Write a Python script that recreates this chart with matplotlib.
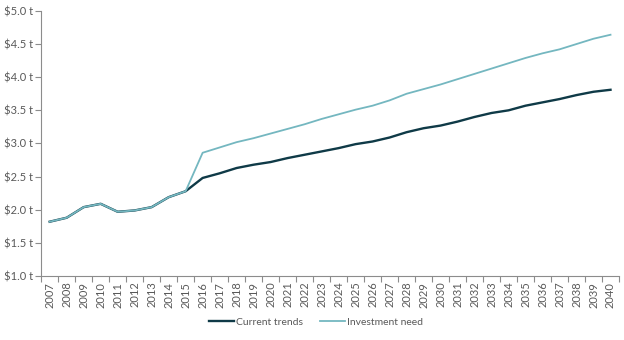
import numpy as np
import matplotlib.pyplot as plt
from matplotlib.ticker import FuncFormatter

years = list(range(2007, 2041))

current_trends = [1.82, 1.88, 2.04, 2.09, 1.97, 1.99, 2.04, 2.19, 2.28,
                  2.48, 2.55, 2.63, 2.68, 2.72, 2.78, 2.83, 2.88, 2.93,
                  2.99, 3.03, 3.09, 3.17, 3.23, 3.27, 3.33, 3.40, 3.46,
                  3.50, 3.57, 3.62, 3.67, 3.73, 3.78, 3.81]
investment_need = [1.82, 1.88, 2.04, 2.09, 1.97, 1.99, 2.04, 2.19, 2.28,
                   2.86, 2.94, 3.02, 3.08, 3.15, 3.22, 3.29, 3.37, 3.44,
                   3.51, 3.57, 3.65, 3.75, 3.82, 3.89, 3.97, 4.05, 4.13,
                   4.21, 4.29, 4.36, 4.42, 4.50, 4.58, 4.64]

dark = '#0f3a47'
light = '#74b7c0'
grey = '#595959'

plt.rcParams['font.family'] = ['Lato', 'DejaVu Sans']

fig = plt.figure(figsize=(6.24, 3.40), dpi=100)
ax = fig.add_axes([0.066, 0.188, 0.926, 0.780])

x = np.arange(len(years))
ax.plot(x, current_trends, color=dark, lw=1.7, label='Current trends')
ax.plot(x, investment_need, color=light, lw=1.3, label='Investment need')

ax.set_xlim(-0.5, len(years) - 0.5)
ax.set_ylim(1.0, 5.0)
ax.set_yticks(np.arange(1.0, 5.01, 0.5))
ax.yaxis.set_major_formatter(FuncFormatter(lambda v, _: f'${v:.1f} t'))

# labels sit in the middle of each year, tick marks on the boundaries
ax.set_xticks(x)
ax.set_xticklabels([str(y) for y in years], rotation=90)
ax.set_xticks(np.arange(-0.5, len(years)), minor=True)
ax.tick_params(axis='x', which='major', length=0, pad=4)
ax.tick_params(axis='x', which='minor', length=4, color='#8c8c8c', width=0.8)
ax.tick_params(axis='y', length=4, color='#8c8c8c', width=0.8, pad=2)
ax.tick_params(labelsize=8, labelcolor=grey)

for side in ('top', 'right'):
    ax.spines[side].set_visible(False)
for side in ('left', 'bottom'):
    ax.spines[side].set_color('#8c8c8c')
    ax.spines[side].set_linewidth(0.8)

leg = fig.legend(loc='center', bbox_to_anchor=(0.506, 0.053), ncol=2,
                 frameon=False, fontsize=7.5, handlelength=2.4,
                 handletextpad=0.2, columnspacing=1.6)
for t in leg.get_texts():
    t.set_color(grey)

fig.savefig('out.png', dpi=100)
